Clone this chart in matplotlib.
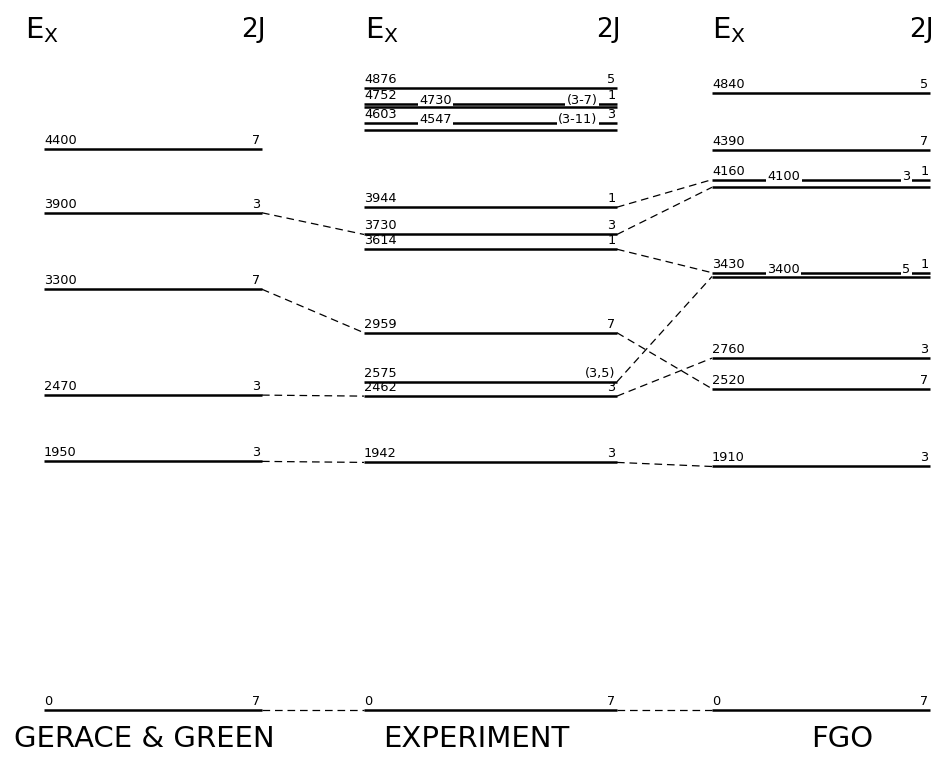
import matplotlib
matplotlib.use("Agg")
import matplotlib.pyplot as plt

# ---------------- data ----------------
gg_E = [0, 1950, 2470, 3300, 3900, 4400]
gg_J = ["7", "3", "3", "7", "3", "7"]

exp_E = [0, 1942, 2462, 2575, 2959, 3614, 3730, 3944, 4547, 4603, 4730, 4752, 4876]
exp_J = ["7", "3", "3", "(3,5)", "7", "1", "3", "1", "(3-11)", "3", "(3-7)", "1", "5"]

fgo_E = [0, 1910, 2520, 2760, 3400, 3430, 4100, 4160, 4390, 4840]
fgo_J = ["7", "3", "7", "3", "5", "1", "3", "1", "7", "5"]

# levels whose labels are written inline on the level just above them
exp_inline = [4547, 4730]
fgo_inline = [3400, 4100]

gg_exp_links = [(0, 0), (1950, 1942), (2470, 2462), (3300, 2959), (3900, 3730)]
exp_fgo_links = [(0, 0), (1942, 1910), (2462, 2760), (2575, 3400), (2959, 2520),
                 (3614, 3430), (3730, 4100), (3944, 4160)]

titles = ["GERACE & GREEN", "EXPERIMENT", "FGO"]

# ---------------- layout ----------------
plt.rcParams["lines.scale_dashes"] = False
plt.rcParams["mathtext.default"] = "regular"

fig = plt.figure(figsize=(9.34, 7.61), dpi=100)
ax = fig.add_axes([0, 0, 1, 1])
ax.set_xlim(0, 934)
ax.set_ylim(-400, 5569)
ax.axis("off")

cols = [(44, 262), (364, 617), (712, 930)]
lab_fs = 9.3
lw_level = 1.8


def draw_column(E, J, inline, x0, x1):
    Es = sorted(E)
    for e, j in zip(E, J):
        z = 5 if e in inline else 2
        ax.hlines(e, x0, x1, color="black", lw=lw_level, zorder=z)
        if e in inline:
            upper = Es[Es.index(e) + 1]
            bb = dict(fc="white", ec="none", pad=0.8)
            ax.annotate(str(e), (x0, upper), xytext=(40, 2.5), textcoords="offset points",
                        ha="left", va="center", fontsize=lab_fs, bbox=bb, zorder=4)
            ax.annotate(j, (x1, upper), xytext=(-14, 2.5), textcoords="offset points",
                        ha="right", va="center", fontsize=lab_fs, bbox=bb, zorder=4)
        else:
            ax.annotate(str(e), (x0, e), xytext=(0, 1.5), textcoords="offset points",
                        ha="left", va="bottom", fontsize=lab_fs, zorder=3)
            ax.annotate(j, (x1, e), xytext=(-1, 1.5), textcoords="offset points",
                        ha="right", va="bottom", fontsize=lab_fs, zorder=3)


draw_column(gg_E, gg_J, [], *cols[0])
draw_column(exp_E, exp_J, exp_inline, *cols[1])
draw_column(fgo_E, fgo_J, fgo_inline, *cols[2])

for links, (ca, cb) in [(gg_exp_links, (cols[0], cols[1])), (exp_fgo_links, (cols[1], cols[2]))]:
    for ea, eb in links:
        ax.plot([ca[1], cb[0]], [ea, eb], color="black", lw=0.9,
                linestyle=(0, (5.5, 3.5)), zorder=1)

# headers
hdr_y = 5330
hdr_x = [25, 365, 712]
for (x0, x1), hx in zip(cols, hdr_x):
    ax.text(hx, hdr_y, r"$E_X$", fontsize=21, ha="left", va="center")
    ax.text(x1 + 4, hdr_y, "2J", fontsize=19, ha="right", va="center")

# titles
title_x = [144, 476, 842]
for t, tx in zip(titles, title_x):
    ax.text(tx, -230, t, fontsize=21, ha="center", va="center")

fig.savefig("out.png", dpi=100, facecolor="white")
